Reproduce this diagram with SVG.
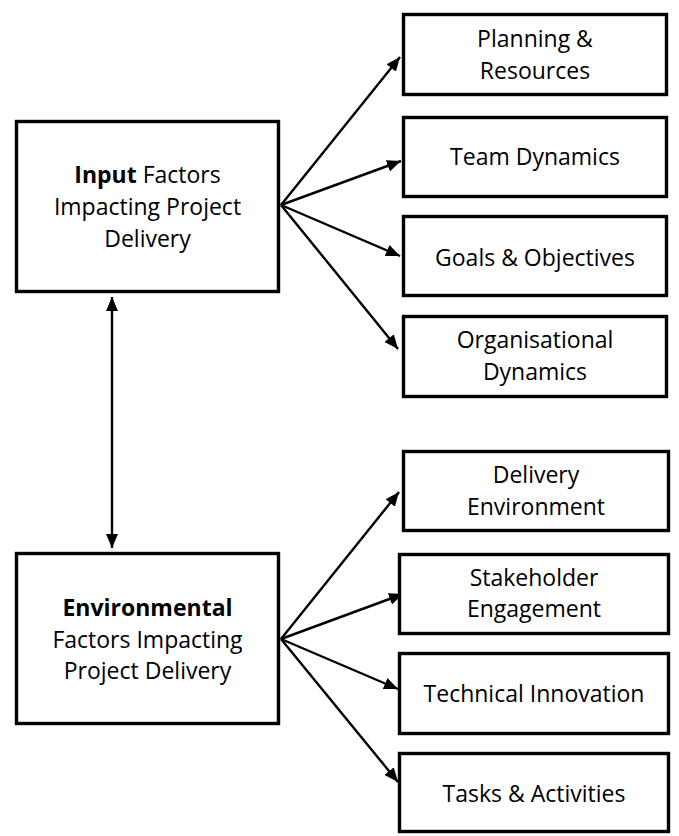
<svg xmlns="http://www.w3.org/2000/svg" width="679" height="836" viewBox="0 0 679 836">
  <defs>
    <marker id="arrow" markerUnits="userSpaceOnUse" markerWidth="14" markerHeight="12" refX="14" refY="6" orient="auto-start-reverse">
      <path d="M0,0 L14,6 L0,12 Z" fill="#000"/>
    </marker>
    <style>
      .box { fill: #fff; stroke: #000; stroke-width: 3.4; }
      .lbl { font-family: "Open Sans", "Noto Sans", "Liberation Sans", sans-serif; font-size: 23px; fill: #000; text-anchor: middle; }
      .b { font-weight: bold; }
      .conn { stroke: #000; stroke-width: 2.4; fill: none; marker-end: url(#arrow); }
    </style>
  </defs>
  <rect width="679" height="836" fill="#fff"/>

  <g id="connectors">
    <line class="conn" x1="281" y1="205" x2="400" y2="57"/>
    <line class="conn" x1="281" y1="205" x2="401" y2="161"/>
    <line class="conn" x1="281" y1="205" x2="400" y2="256"/>
    <line class="conn" x1="281" y1="205" x2="398" y2="349"/>
    <line class="conn" x1="281" y1="639" x2="399" y2="492"/>
    <line class="conn" x1="281" y1="639" x2="403" y2="594"/>
    <line class="conn" x1="281" y1="639" x2="398" y2="689"/>
    <line class="conn" x1="281" y1="639" x2="398" y2="782"/>
    <line class="conn" x1="112" y1="297" x2="112" y2="548" marker-start="url(#arrow)"/>
  </g>

  <g id="input-factors">
    <rect class="box" x="16.5" y="121.5" width="262" height="170"/>
    <text class="lbl" x="147.5" y="183"><tspan class="b">Input</tspan> Factors</text>
    <text class="lbl" x="147.5" y="215">Impacting Project</text>
    <text class="lbl" x="147.5" y="247">Delivery</text>
  </g>

  <g id="environmental-factors">
    <rect class="box" x="16.5" y="553.5" width="262" height="170"/>
    <text class="lbl b" x="147.5" y="616">Environmental</text>
    <text class="lbl" x="147.5" y="648">Factors Impacting</text>
    <text class="lbl" x="147.5" y="679">Project Delivery</text>
  </g>

  <g id="planning-resources">
    <rect class="box" x="403.5" y="14.5" width="263" height="80"/>
    <text class="lbl" x="535" y="47">Planning &amp;</text>
    <text class="lbl" x="535" y="79">Resources</text>
  </g>

  <g id="team-dynamics">
    <rect class="box" x="403.5" y="117.5" width="263" height="79"/>
    <text class="lbl" x="535" y="165">Team Dynamics</text>
  </g>

  <g id="goals-objectives">
    <rect class="box" x="403.5" y="216.5" width="263" height="79"/>
    <text class="lbl" x="535" y="266">Goals &amp; Objectives</text>
  </g>

  <g id="organisational-dynamics">
    <rect class="box" x="403.5" y="316.5" width="263" height="80"/>
    <text class="lbl" x="535" y="348">Organisational</text>
    <text class="lbl" x="535" y="380">Dynamics</text>
  </g>

  <g id="delivery-environment">
    <rect class="box" x="403.5" y="451.5" width="265" height="79"/>
    <text class="lbl" x="536" y="483">Delivery</text>
    <text class="lbl" x="536" y="515">Environment</text>
  </g>

  <g id="stakeholder-engagement">
    <rect class="box" x="399.5" y="554.5" width="269" height="79"/>
    <text class="lbl" x="534" y="586">Stakeholder</text>
    <text class="lbl" x="534" y="617">Engagement</text>
  </g>

  <g id="technical-innovation">
    <rect class="box" x="399.5" y="653.5" width="269" height="80"/>
    <text class="lbl" x="534" y="702">Technical Innovation</text>
  </g>

  <g id="tasks-activities">
    <rect class="box" x="399.5" y="753.5" width="269" height="78"/>
    <text class="lbl" x="534" y="802">Tasks &amp; Activities</text>
  </g>
</svg>
